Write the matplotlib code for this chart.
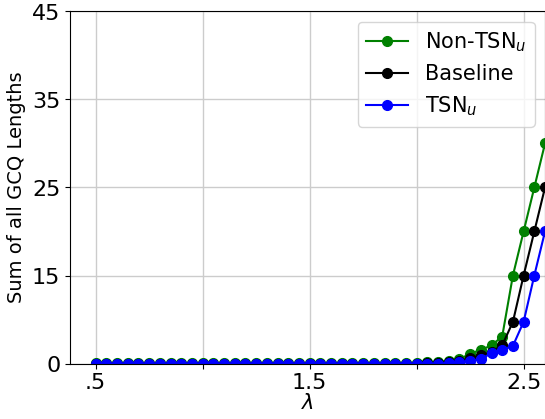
import numpy as np
import matplotlib
matplotlib.use('Agg')
import matplotlib.pyplot as plt

# lambda values sampled every 0.05
lam = [0.5, 0.55, 0.6, 0.65, 0.7, 0.75, 0.8, 0.85, 0.9, 0.95,
       1.0, 1.05, 1.1, 1.15, 1.2, 1.25, 1.3, 1.35, 1.4, 1.45,
       1.5, 1.55, 1.6, 1.65, 1.7, 1.75, 1.8, 1.85, 1.9, 1.95,
       2.0, 2.05, 2.1, 2.15, 2.2, 2.25, 2.3, 2.35, 2.4, 2.45,
       2.5, 2.55, 2.6]

non_tsn = [0.05, 0.05, 0.05, 0.05, 0.05, 0.05, 0.05, 0.05, 0.05, 0.05,
           0.05, 0.05, 0.05, 0.05, 0.05, 0.05, 0.05, 0.05, 0.05, 0.05,
           0.05, 0.05, 0.05, 0.05, 0.05, 0.05, 0.05, 0.05, 0.05, 0.1,
           0.1, 0.2, 0.3, 0.45, 0.7, 1.7, 2.3, 3.1, 4.6, 15,
           20, 25, 30]
baseline = [0, 0, 0, 0, 0, 0, 0, 0, 0, 0,
            0, 0, 0, 0, 0, 0, 0, 0, 0, 0,
            0, 0, 0, 0, 0, 0, 0, 0, 0, 0,
            0, 0.05, 0.1, 0.2, 0.4, 0.9, 1.4, 2.0, 3.1, 7.1,
            15, 20, 25]
tsn = [0, 0, 0, 0, 0, 0, 0, 0, 0, 0,
       0, 0, 0, 0, 0, 0, 0, 0, 0, 0,
       0, 0, 0, 0, 0, 0, 0, 0, 0, 0,
       0, 0, 0, 0.05, 0.2, 0.5, 0.7, 1.8, 2.3, 3.0,
       7.1, 15, 20]

y_ticks = [0, 15, 25, 35, 45]
x_ticks = [0.5, 1.0, 1.5, 2.0, 2.5]
x_ticklabels = ['.5', '', '1.5', '', '2.5']

# piecewise linear y axis: each tick interval gets the same height
tick_pos = np.arange(len(y_ticks))


def fwd(v):
    return np.interp(v, y_ticks, tick_pos)


def inv(v):
    return np.interp(v, tick_pos, y_ticks)


fig = plt.figure(figsize=(5.45, 4.19), dpi=100)
ax = fig.add_axes([70 / 545, 1 - 363.5 / 419, 475 / 545, 352 / 419])

series = [(non_tsn, 'green', 'Non-TSN$_u$'),
          (baseline, 'black', 'Baseline'),
          (tsn, 'blue', 'TSN$_u$')]
for vals, col, lab in series:
    line, = ax.plot(lam, vals, '-o', color=col, lw=1.5, ms=7, label=lab)
    line.set_clip_path(ax.patch)

ax.set_yscale('function', functions=(fwd, inv))
ax.set_ylim(0, 45)
ax.set_xlim(0.38, 2.6)
ax.set_yticks(y_ticks)
ax.set_yticklabels([str(t) for t in y_ticks])
ax.set_xticks(x_ticks)
ax.set_xticklabels(x_ticklabels)
ax.minorticks_off()
ax.tick_params(labelsize=16)
ax.grid(True, color='#cccccc', lw=1)
ax.set_axisbelow(True)

ax.set_xlabel('$\\lambda$', fontsize=15, labelpad=0)
ax.set_ylabel('Sum of all GCQ Lengths', fontsize=14)
ax.legend(loc='upper right', fontsize=15, handlelength=2, borderaxespad=0.5)

fig.savefig('out.png', dpi=100)
